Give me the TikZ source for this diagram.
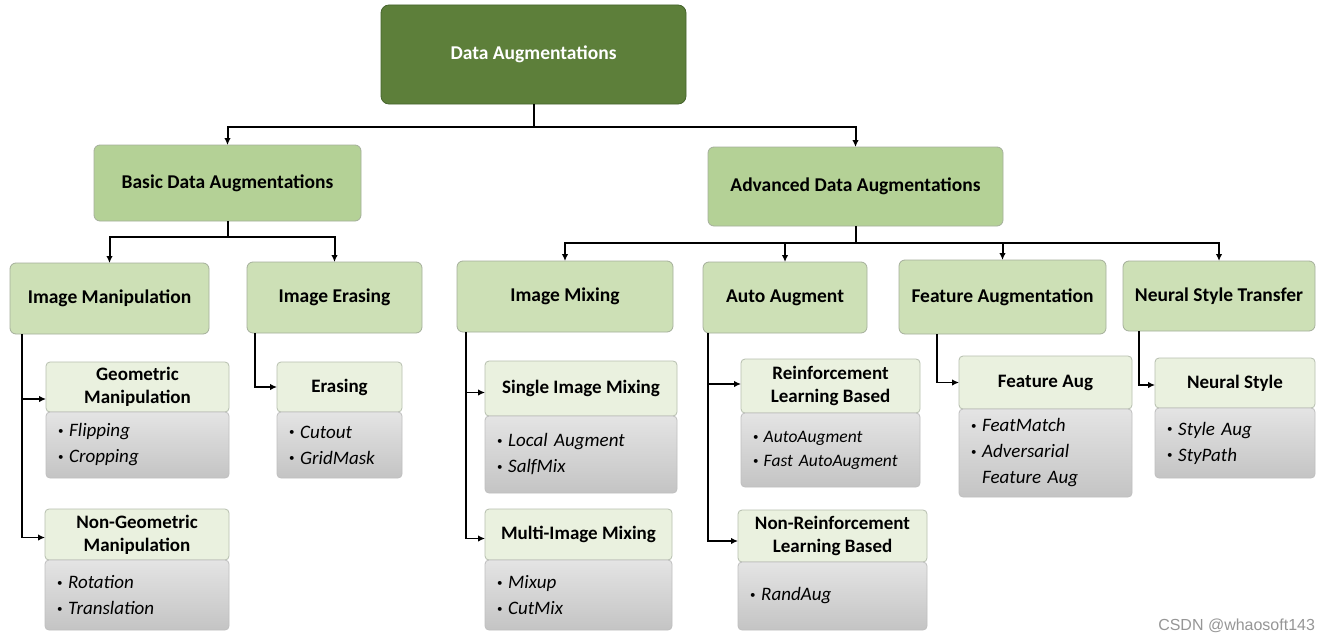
\documentclass[tikz,border=0pt]{standalone}
\usepackage{fontspec}
\setmainfont{Carlito}
\newfontfamily\wmfont{Liberation Sans}
\usetikzlibrary{arrows.meta,calc}
\definecolor{rootg}{RGB}{93,127,58}
\definecolor{rootb}{RGB}{70,100,45}
\definecolor{lvone}{RGB}{180,209,150}
\definecolor{lvtwo}{RGB}{205,224,182}
\definecolor{hdrc}{RGB}{234,241,223}
\definecolor{bodytop}{RGB}{228,228,228}
\definecolor{bodybot}{RGB}{196,196,196}
\definecolor{edgec}{RGB}{165,175,155}
\definecolor{wmc}{RGB}{150,150,150}
\newcommand\itm{\raisebox{0.12em}{\fontsize{11}{11}\selectfont\upshape\textbullet}\hspace{0.3em}}
\newcommand\itmgap{\hphantom{\itm}}
\newcommand\itemfont[2]{\fontsize{#1}{#2}\selectfont\itshape\spaceskip=0.2em plus 0.05em minus 0pt\relax}
\begin{document}
\begin{tikzpicture}[x=1pt,y=-1pt,
  every node/.style={inner sep=0pt, outer sep=0pt},
  rootbox/.style={draw=rootb, line width=0.8pt, fill=rootg, rounded corners=8pt, text=white, font=\fontsize{19.5}{22}\selectfont\bfseries, anchor=north west},
  onebox/.style={draw=edgec, line width=0.8pt, fill=lvone, rounded corners=6pt, font=\fontsize{19.5}{22}\selectfont\bfseries, anchor=north west},
  twobox/.style={draw=edgec, line width=0.8pt, fill=lvtwo, rounded corners=6pt, font=\fontsize{19.5}{22}\selectfont\bfseries, anchor=north west},
  hdrbox/.style={draw=edgec!80, line width=0.8pt, fill=hdrc, rounded corners=4pt, font=\fontsize{19}{23}\selectfont\bfseries, align=center, anchor=north west},
  bodybox/.style={draw=black!25, line width=0.8pt, top color=bodytop, bottom color=bodybot, rounded corners=4pt, font=\itemfont{19}{26}, align=left, anchor=north west, inner xsep=12pt},
  conn/.style={draw=black, line width=2pt, -{Latex[length=7pt,width=6.5pt]}},
  subconn/.style={draw=black, line width=1.6pt, -{Latex[length=7pt,width=6.5pt]}}
]
\useasboundingbox (0,0) rectangle (1330,642);
\fill[white] (0,0) rectangle (1330,642);

% root and level 1
\node[rootbox, minimum width=305pt, minimum height=99pt] (root) at (381,5) {Data Augmentations};
\node[onebox, minimum width=267pt, minimum height=76pt] (basic) at (94,145) {Basic Data Augmentations};
\node[onebox, minimum width=295pt, minimum height=79pt] (adv) at (708,147) {Advanced Data Augmentations};

% level 2
\node[twobox, minimum width=199pt, minimum height=71pt] (im) at (10,263) {Image Manipulation};
\node[twobox, minimum width=175pt, minimum height=71pt] (ie) at (247,262) {Image Erasing};
\node[twobox, minimum width=216pt, minimum height=71pt] (mix) at (457,261) {Image Mixing};
\node[twobox, minimum width=164pt, minimum height=71pt] (auto) at (703,262) {Auto Augment};
\node[twobox, minimum width=207pt, minimum height=74pt] (feat) at (899,260) {Feature Augmentation};
\node[twobox, minimum width=192pt, minimum height=70pt] (nst) at (1123,261) {Neural Style Transfer};

% level 3 headers
\node[hdrbox, minimum width=183pt, minimum height=50pt] (geo) at (46,362) {Geometric\\Manipulation};
\node[hdrbox, minimum width=184pt, minimum height=51pt] (ngeo) at (45,509) {Non-Geometric\\Manipulation};
\node[hdrbox, minimum width=125pt, minimum height=50pt] (era) at (277,362) {Erasing};
\node[hdrbox, minimum width=192pt, minimum height=55pt] (single) at (485,361) {Single Image Mixing};
\node[hdrbox, minimum width=187pt, minimum height=51pt] (multi) at (485,509) {Multi-Image Mixing};
\node[hdrbox, minimum width=179pt, minimum height=54pt] (rl) at (741,359) {Reinforcement\\Learning Based};
\node[hdrbox, minimum width=189pt, minimum height=52pt] (nrl) at (738,510) {Non-Reinforcement\\Learning Based};
\node[hdrbox, minimum width=173pt, minimum height=53pt] (fa) at (959,356) {Feature Aug};
\node[hdrbox, minimum width=160pt, minimum height=50pt] (ns) at (1155,358) {Neural Style};

% level 3 bodies
\node[bodybox, text width=159pt, minimum height=66pt] (geob) at (46,412) {\itm Flipping\\\itm Cropping};
\node[bodybox, text width=160pt, minimum height=70pt] (ngeob) at (45,560) {\itm Rotation\\\itm Translation};
\node[bodybox, text width=101pt, minimum height=66pt] (erab) at (277,412) {\itm Cutout\\\itm GridMask};
\node[bodybox, text width=168pt, minimum height=77pt] (singleb) at (485,416) {\itm Local Augment\\\itm SalfMix};
\node[bodybox, text width=163pt, minimum height=70pt] (multib) at (485,560) {\itm Mixup\\\itm CutMix};
\node[bodybox, text width=155pt, minimum height=74pt, font=\itemfont{17.5}{24}] (rlb) at (741,413) {\itm AutoAugment\\\itm Fast AutoAugment};
\node[bodybox, text width=165pt, minimum height=68pt] (nrlb) at (738,562) {\itm RandAug};
\node[bodybox, text width=149pt, minimum height=88pt] (fab) at (959,409) {\itm FeatMatch\\\itm Adversarial\\\itmgap Feature Aug};
\node[bodybox, text width=136pt, minimum height=70pt] (nsb) at (1155,408) {\itm Style Aug\\\itm StyPath};

% connectors: top levels
\draw[conn] (root.south) -- ++(0,23) -| (basic.north);
\draw[conn] (root.south) -- ++(0,23) -| (adv.north);
\draw[conn] (basic.south) -- ++(0,16) -| (im.north);
\draw[conn] (basic.south) -- ++(0,16) -| (ie.north);
\foreach \t in {mix,auto,feat,nst}
  \draw[conn] (adv.south) -- ++(0,17) -| (\t.north);

% connectors: level 3
\draw[subconn] ([xshift=12pt]im.south west) |- ([yshift=-12pt]geo.west);
\draw[subconn] ([xshift=12pt]im.south west) |- ([yshift=-3pt]ngeo.west);
\draw[subconn] ([xshift=8pt]ie.south west) |- (era.west);
\draw[subconn] ([xshift=9pt]mix.south west) |- ([yshift=-4pt]single.west);
\draw[subconn] ([xshift=9pt]mix.south west) |- ([yshift=-4pt]multi.west);
\draw[subconn] ([xshift=5pt]auto.south west) |- ([yshift=2pt]rl.west);
\draw[subconn] ([xshift=5pt]auto.south west) |- ([yshift=-5pt]nrl.west);
\draw[subconn] ([xshift=38pt]feat.south west) |- (fa.west);
\draw[subconn] ([xshift=16pt]nst.south west) |- ([yshift=-2pt]ns.west);

% watermark
\node[anchor=east, text=wmc, font=\wmfont\fontsize{16}{18}\selectfont] (wm) at (1315,626) {CSDN @whaosoft143};
\end{tikzpicture}
\end{document}
